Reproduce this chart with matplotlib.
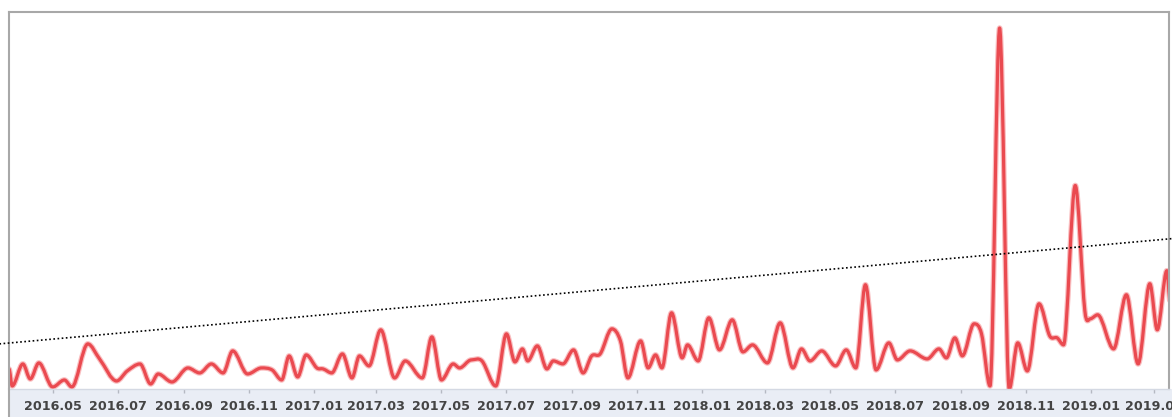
import numpy as np
import matplotlib.pyplot as plt
import matplotlib.dates as mdates
from matplotlib.path import Path
from matplotlib.patches import PathPatch, Rectangle
from matplotlib.lines import Line2D

# 数据：日期与数值
dates = [
    "2016-03-21", "2016-03-24", "2016-04-03", "2016-04-10", "2016-04-18", "2016-05-01",
    "2016-05-12", "2016-05-19", "2016-06-03", "2016-06-14", "2016-06-30", "2016-07-10",
    "2016-07-22", "2016-08-01", "2016-08-08", "2016-08-21", "2016-09-05", "2016-09-16",
    "2016-09-27", "2016-10-08", "2016-10-17", "2016-10-31", "2016-11-13", "2016-11-23",
    "2016-12-02", "2016-12-09", "2016-12-17", "2016-12-25", "2017-01-04", "2017-01-10",
    "2017-01-18", "2017-01-28", "2017-02-06", "2017-02-13", "2017-02-22", "2017-03-05",
    "2017-03-18", "2017-03-28", "2017-04-13", "2017-04-22", "2017-05-01", "2017-05-12",
    "2017-05-18", "2017-05-29", "2017-06-08", "2017-06-21", "2017-07-01", "2017-07-09",
    "2017-07-16", "2017-07-21", "2017-07-30", "2017-08-08", "2017-08-14", "2017-08-23",
    "2017-09-02", "2017-09-11", "2017-09-19", "2017-09-27", "2017-10-08", "2017-10-16",
    "2017-10-23", "2017-11-04", "2017-11-11", "2017-11-18", "2017-11-24", "2017-12-03",
    "2017-12-13", "2017-12-18", "2017-12-28", "2018-01-07", "2018-01-17", "2018-01-29",
    "2018-02-08", "2018-02-17", "2018-03-03", "2018-03-15", "2018-03-27", "2018-04-04",
    "2018-04-12", "2018-04-23", "2018-05-06", "2018-05-16", "2018-05-25", "2018-06-03",
    "2018-06-13", "2018-06-25", "2018-07-03", "2018-07-15", "2018-07-31", "2018-08-11",
    "2018-08-18", "2018-08-26", "2018-09-02", "2018-09-13", "2018-09-20", "2018-09-28",
    "2018-10-07", "2018-10-16", "2018-10-24", "2018-11-02", "2018-11-13", "2018-11-23",
    "2018-11-30", "2018-12-06", "2018-12-17", "2018-12-26", "2018-12-31", "2019-01-07",
    "2019-01-22", "2019-02-03", "2019-02-14", "2019-02-25", "2019-03-04", "2019-03-13",
    "2019-03-16",
]
values = [
    20, 3, 25, 10, 26, 2,
    9, 2, 45, 30, 8, 18,
    25, 5, 15, 7, 21, 16,
    25, 16, 38, 15, 21, 19,
    9, 33, 12, 34, 21, 20,
    16, 35, 11, 33, 23, 59,
    11, 28, 11, 52, 9, 25,
    21, 29, 28, 3, 55, 27,
    40, 28, 43, 20, 28, 25,
    39, 16, 33, 35, 60, 48,
    11, 48, 21, 34, 21, 76,
    31, 44, 28, 71, 39, 69,
    37, 44, 26, 66, 21, 40,
    28, 38, 23, 39, 21, 104,
    19, 46, 29, 38, 30, 40,
    31, 51, 33, 65, 55, 3,
    360, 0, 46, 18, 85, 53,
    51, 44, 203, 78, 70, 74,
    40, 94, 25, 105, 59, 118,
    88,
]

# 趋势线（两端）
trend_dates = ["2016-03-12", "2019-03-18"]
trend_values = [45, 150]

x_range = ["2016-03-21", "2019-03-15"]

x = mdates.date2num(np.array(dates, dtype="datetime64[D]"))
y = np.array(values, dtype=float)

# 平滑曲线：三次 Hermite -> Bezier
n = len(x)
m = np.zeros(n)
for i in range(1, n - 1):
    if (y[i] - y[i - 1]) * (y[i + 1] - y[i]) > 0:
        m[i] = (y[i + 1] - y[i - 1]) / (x[i + 1] - x[i - 1])
verts = [(x[0], y[0])]
codes = [Path.MOVETO]
for i in range(n - 1):
    h = x[i + 1] - x[i]
    verts += [(x[i] + h / 3, y[i] + m[i] * h / 3),
              (x[i + 1] - h / 3, y[i + 1] - m[i + 1] * h / 3),
              (x[i + 1], y[i + 1])]
    codes += [Path.CURVE4] * 3
path = Path(verts, codes)

fig = plt.figure(figsize=(11.72, 4.17), dpi=100)
ax = fig.add_axes([9 / 1172, 28 / 417, 1160 / 1172, 377 / 417])

# 底部浅色区域
fig.patches.append(Rectangle((9 / 1172, 0), 1, 28 / 417, transform=fig.transFigure,
                             facecolor="#e9edf5", edgecolor="none", zorder=-1))
fig.lines.append(Line2D([9 / 1172, 9 / 1172], [0, 28 / 417], transform=fig.transFigure,
                        color="#a8a8a8", lw=1.5))

ax.add_patch(PathPatch(path, facecolor="none", edgecolor="#f7a3a6", lw=4.0,
                       alpha=0.7, capstyle="round", joinstyle="round"))
ax.add_patch(PathPatch(path, facecolor="none", edgecolor="#ea4a50", lw=2.3,
                       capstyle="round", joinstyle="round"))

ax.plot(mdates.date2num(np.array(trend_dates, dtype="datetime64[D]")), trend_values,
        color="black", lw=1.2, linestyle=(0, (1, 1.5)), clip_on=False, zorder=5)

ax.set_xlim(mdates.date2num(np.array(x_range, dtype="datetime64[D]")))
ax.set_ylim(0, 376)

ax.xaxis.set_major_locator(mdates.MonthLocator(bymonth=[1, 3, 5, 7, 9, 11]))
ax.xaxis.set_major_formatter(mdates.DateFormatter("%Y.%m"))
ax.tick_params(axis="x", direction="out", length=3, width=1, color="#b5b9c2",
               pad=5, labelsize=9.2, labelcolor="#444444")
for lab in ax.get_xticklabels():
    lab.set_fontweight("bold")
ax.yaxis.set_visible(False)

for side in ["left", "top", "right"]:
    ax.spines[side].set_color("#a8a8a8")
    ax.spines[side].set_linewidth(1.5)
ax.spines["bottom"].set_color("#d4d9e3")
ax.spines["bottom"].set_linewidth(1)

fig.savefig("out.png", dpi=100)
